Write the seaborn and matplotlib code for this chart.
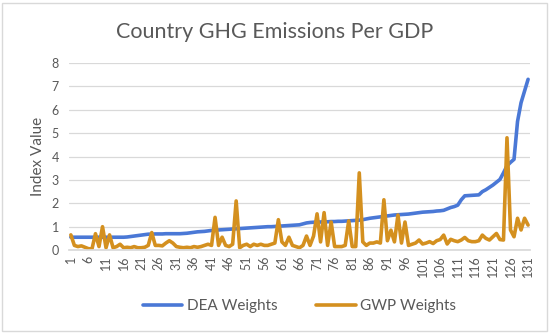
import pandas as pd
import matplotlib
matplotlib.use("Agg")
import matplotlib.pyplot as plt
import seaborn as sns

# === Data ===
dea_weights = [
    0.55, 0.55, 0.55, 0.55, 0.55, 0.55, 0.55, 0.55, 0.55, 0.55,
    0.55, 0.55, 0.55, 0.55, 0.55, 0.55, 0.56, 0.58, 0.60, 0.62,
    0.64, 0.66, 0.68, 0.68, 0.69, 0.69, 0.69, 0.70, 0.70, 0.70,
    0.70, 0.70, 0.71, 0.72, 0.74, 0.76, 0.78, 0.79, 0.80, 0.82,
    0.84, 0.85, 0.86, 0.87, 0.88, 0.89, 0.90, 0.91, 0.92, 0.93,
    0.94, 0.95, 0.96, 0.97, 0.98, 0.99, 1.00, 1.00, 1.01, 1.02,
    1.03, 1.04, 1.05, 1.06, 1.07, 1.08, 1.12, 1.16, 1.18, 1.19,
    1.20, 1.20, 1.21, 1.21, 1.22, 1.22, 1.23, 1.23, 1.24, 1.25,
    1.26, 1.27, 1.28, 1.30, 1.33, 1.36, 1.38, 1.40, 1.42, 1.44,
    1.46, 1.48, 1.50, 1.51, 1.52, 1.53, 1.54, 1.56, 1.58, 1.60,
    1.62, 1.63, 1.64, 1.65, 1.67, 1.68, 1.70, 1.76, 1.82, 1.86,
    1.92, 2.15, 2.32, 2.33, 2.34, 2.35, 2.36, 2.50, 2.58, 2.68,
    2.78, 2.90, 3.02, 3.30, 3.60, 3.75, 3.88, 5.50, 6.30, 6.80,
    7.30,
]
gwp_weights = [
    0.65, 0.20, 0.15, 0.18, 0.12, 0.06, 0.05, 0.70, 0.15, 1.00,
    0.10, 0.65, 0.10, 0.15, 0.25, 0.10, 0.12, 0.10, 0.15, 0.10,
    0.10, 0.12, 0.20, 0.75, 0.20, 0.20, 0.18, 0.30, 0.40, 0.30,
    0.15, 0.12, 0.10, 0.12, 0.10, 0.15, 0.12, 0.15, 0.20, 0.25,
    0.20, 1.40, 0.20, 0.55, 0.20, 0.15, 0.25, 2.10, 0.10, 0.20,
    0.25, 0.15, 0.25, 0.20, 0.25, 0.20, 0.20, 0.25, 0.30, 1.30,
    0.35, 0.20, 0.55, 0.20, 0.15, 0.10, 0.20, 0.60, 0.20, 0.60,
    1.55, 0.35, 1.60, 0.20, 1.20, 0.15, 0.15, 0.15, 0.20, 1.25,
    0.15, 0.15, 3.30, 0.35, 0.20, 0.30, 0.30, 0.35, 0.30, 2.15,
    0.40, 0.85, 0.35, 1.50, 0.30, 1.20, 0.20, 0.25, 0.30, 0.43,
    0.26, 0.30, 0.36, 0.28, 0.40, 0.45, 0.64, 0.26, 0.46, 0.40,
    0.36, 0.43, 0.54, 0.40, 0.36, 0.36, 0.40, 0.64, 0.50, 0.43,
    0.57, 0.71, 0.45, 0.43, 4.80, 0.86, 0.57, 1.36, 0.86, 1.36,
    1.07,
]
country_idx = list(range(1, len(dea_weights) + 1))
series_names = ["DEA Weights", "GWP Weights"]
series_colors = ["#4A78D6", "#D4901F"]

df = pd.concat([
    pd.DataFrame({"idx": country_idx, "value": dea_weights, "series": series_names[0]}),
    pd.DataFrame({"idx": country_idx, "value": gwp_weights, "series": series_names[1]}),
])

# === Style ===
sns.set_theme(style="white")
plt.rcParams["font.family"] = ["Lato", "DejaVu Sans"]
text_grey = "#595959"

fig = plt.figure(figsize=(5.5, 3.33), dpi=100)
ax = fig.add_axes([0.125, 0.249, 0.839, 0.562])

sns.lineplot(data=df, x="idx", y="value", hue="series", palette=series_colors,
             hue_order=series_names, linewidth=2.6, ax=ax, legend=True)

ax.set_xlim(0.4, len(country_idx) + 0.6)
ax.set_ylim(0, 8)
ax.set_yticks(range(0, 9))
ax.set_xticks(country_idx[::5])
ax.set_xticklabels([str(i) for i in country_idx[::5]], rotation=90)
ax.tick_params(axis="both", labelsize=9, colors=text_grey, length=0, pad=4)
ax.tick_params(axis="y", pad=7)
ax.yaxis.grid(True, color="#D9D9D9", linewidth=0.9)
ax.set_axisbelow(True)
for side in ["top", "right", "left"]:
    ax.spines[side].set_visible(False)
ax.spines["bottom"].set_color("#D9D9D9")

ax.set_xlabel("")
ax.set_ylabel("Index Value", fontsize=11, color=text_grey, labelpad=5)
fig.suptitle("Country GHG Emissions Per GDP", fontsize=15.5, color=text_grey, y=0.935)

handles, labels = ax.get_legend_handles_labels()
ax.legend(handles, labels, loc="center", bbox_to_anchor=(0.5, -0.3),
          ncol=2, frameon=False, fontsize=11, labelcolor=text_grey,
          handlelength=2.6, columnspacing=2.5, handletextpad=0.3)

# thin frame around the whole chart, like the source image
fig.patches.append(plt.Rectangle((0.004, 0.006), 0.99, 0.986, transform=fig.transFigure,
                                 fill=False, edgecolor="#D9D9D9", linewidth=1))

fig.savefig("out.png", dpi=100)
